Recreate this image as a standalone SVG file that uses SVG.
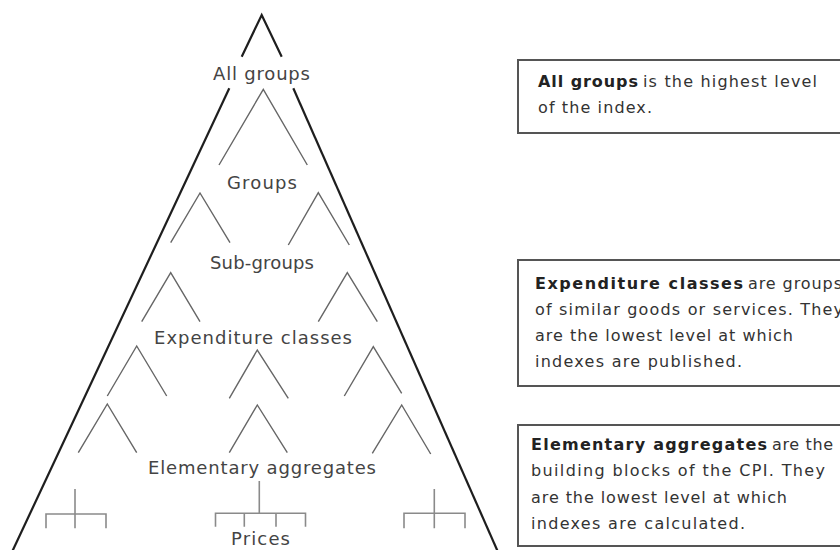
<svg xmlns="http://www.w3.org/2000/svg" width="840" height="550" viewBox="0 0 840 550">
<style>
.lbl{font-family:"DejaVu Sans","Liberation Sans",Arial,sans-serif;font-size:18px;fill:#444}
.bt{font-family:"DejaVu Sans","Liberation Sans",Arial,sans-serif;font-size:16px;fill:#333}
.bb{font-family:"DejaVu Sans","Liberation Sans",Arial,sans-serif;font-size:16px;font-weight:bold;fill:#222}
.box{fill:#fff;stroke:#555;stroke-width:2}
.outer{fill:none;stroke:#1e1e1e;stroke-width:2.2}
.tree{fill:none;stroke:#666;stroke-width:1.4}
.fork{fill:none;stroke:#8a8a8a;stroke-width:1.6}
</style>
<rect width="840" height="550" fill="#fff"/>
<g id="outline">
<polyline class="outer" points="241.7,56.7 261.7,15 281.7,56.7"/>
<line class="outer" x1="229.3" y1="88.3" x2="12" y2="552"/>
<line class="outer" x1="293.3" y1="88.3" x2="498" y2="552"/>
</g>
<g id="connectors">
<polyline class="tree" points="219,165 263.3,89.3 307.3,165"/>
<polyline class="tree" points="170.7,242.7 200,193 230,242.7"/>
<polyline class="tree" points="288.3,245 318.3,192.7 349.3,245"/>
<polyline class="tree" points="141.7,321.7 170.7,272.7 200,321.7"/>
<polyline class="tree" points="318.3,321.7 347.3,272.7 377.3,321.7"/>
<polyline class="tree" points="107.3,396 136.7,346 166.7,396"/>
<polyline class="tree" points="229.3,398.3 257.3,350 288.3,398.3"/>
<polyline class="tree" points="344.3,396 373.3,346.7 401.7,393.3"/>
<polyline class="tree" points="78.3,452.7 107.3,404 136.7,452.7"/>
<polyline class="tree" points="229.3,452.7 257.3,405 287.3,452.7"/>
<polyline class="tree" points="372.3,453.3 401.7,405 430.7,454"/>
<path class="fork" d="M46,528.3 V514 H106 V528.3 M75,489 V528.3"/>
<path class="fork" d="M259.3,481 V513.3 M215.5,526.7 V513.3 H305.5 V526.7 M244.3,513.3 V526.7 M276,513.3 V526.7"/>
<path class="fork" d="M404,528.3 V513.3 H465 V528.3 M434.3,489 V528.3"/>
</g>
<g id="all-groups"><text class="lbl" x="213" y="80" textLength="97" lengthAdjust="spacing">All groups</text></g>
<g id="groups"><text class="lbl" x="227" y="188.5" textLength="70" lengthAdjust="spacing">Groups</text></g>
<g id="sub-groups"><text class="lbl" x="210" y="268.5" textLength="104" lengthAdjust="spacing">Sub-groups</text></g>
<g id="expenditure-classes"><text class="lbl" x="154" y="344" textLength="198" lengthAdjust="spacing">Expenditure classes</text></g>
<g id="elementary-aggregates"><text class="lbl" x="148" y="474" textLength="228" lengthAdjust="spacing">Elementary aggregates</text></g>
<g id="prices"><text class="lbl" x="231" y="545" textLength="59" lengthAdjust="spacing">Prices</text></g>
<g id="note-all-groups">
<rect class="box" x="518" y="60" width="340" height="73"/>
<text class="bb" x="538" y="87" textLength="100" lengthAdjust="spacing">All groups</text>
<text class="bt" x="643" y="87" textLength="174" lengthAdjust="spacing">is the highest level</text>
<text class="bt" x="538" y="113" textLength="114" lengthAdjust="spacing">of the index.</text>
</g>
<g id="note-expenditure-classes">
<rect class="box" x="518" y="260" width="340" height="126"/>
<text class="bb" x="535" y="289" textLength="208" lengthAdjust="spacing">Expenditure classes</text>
<text class="bt" x="748" y="289" textLength="94" lengthAdjust="spacing">are groups</text>
<text class="bt" x="535" y="315" textLength="308" lengthAdjust="spacing">of similar goods or services. They</text>
<text class="bt" x="535" y="341" textLength="258" lengthAdjust="spacing">are the lowest level at which</text>
<text class="bt" x="535" y="367" textLength="207" lengthAdjust="spacing">indexes are published.</text>
</g>
<g id="note-elementary-aggregates">
<rect class="box" x="518" y="425" width="340" height="121"/>
<text class="bb" x="531" y="449.5" textLength="236" lengthAdjust="spacing">Elementary aggregates</text>
<text class="bt" x="772" y="449.5" textLength="61" lengthAdjust="spacing">are the</text>
<text class="bt" x="531" y="476" textLength="294" lengthAdjust="spacing">building blocks of the CPI. They</text>
<text class="bt" x="531" y="502.5" textLength="256" lengthAdjust="spacing">are the lowest level at which</text>
<text class="bt" x="531" y="529" textLength="214" lengthAdjust="spacing">indexes are calculated.</text>
</g>
</svg>
